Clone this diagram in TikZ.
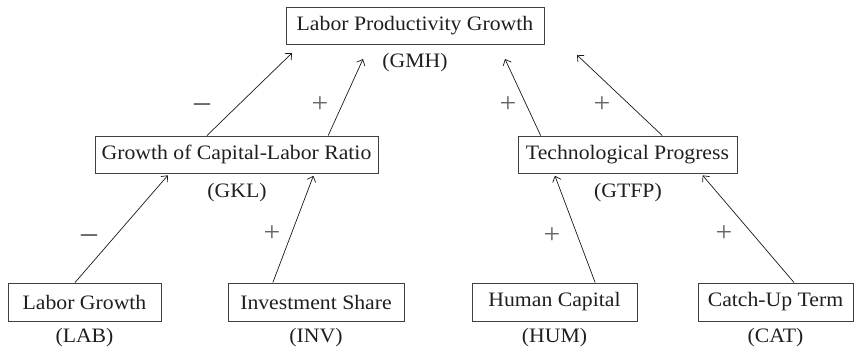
\documentclass[tikz,border=0pt]{standalone}
\usepackage{fontspec}
\setmainfont[FakeStretch=1.06]{Liberation Serif}
\usetikzlibrary{arrows.meta,calc}

\begin{document}
\begin{tikzpicture}[x=1pt,y=-1pt,
  txt/.style={font=\fontsize{20.5}{24}\selectfont,text=black!88,inner sep=0pt},
  box/.style={txt,draw=black!75,line width=0.9pt,minimum height=37pt},
  code/.style={txt},
  sign/.style={font=\fontsize{28}{28}\selectfont,text=black!60,inner sep=0pt},
  minus/.style={font=\fontsize{30}{30}\selectfont,text=black!75,inner sep=0pt},
  link/.style={line width=0.7pt,draw=black!90,-{Straight Barb[length=5pt,width=9pt,line width=0.7pt]}},
]
\useasboundingbox (0,0) rectangle (863,356);

% top level
\node[box,minimum width=258pt] (gmh) at (415,25.5) {Labor Productivity Growth};
\node[code] (gmhc) at (415,63) {(GMH)};

% middle level
\node[box,minimum width=283pt] (gkl) at (236.5,154.5) {Growth of Capital-Labor Ratio};
\node[code] (gklc) at (237,193) {(GKL)};
\node[box,minimum width=219pt] (gtfp) at (627.5,154.5) {Technological Progress};
\node[code] (gtfpc) at (628,193) {(GTFP)};

% bottom level
\node[box,minimum width=153pt,minimum height=38pt] (lab) at (84.5,302) {Labor Growth};
\node[code] (labc) at (84.5,338) {(LAB)};
\node[box,minimum width=176pt,minimum height=38pt] (inv) at (316,302) {Investment Share};
\node[code] (invc) at (316,338) {(INV)};
\node[box,minimum width=165pt,minimum height=38pt] (hum) at (554.5,302) {Human Capital};
\node[code] (humc) at (554.5,338) {(HUM)};
\node[box,minimum width=155pt,minimum height=38pt] (cat) at (775.5,302) {Catch-Up Term};
\node[code] (catc) at (775.5,338) {(CAT)};

% arrow tips below the top box
\coordinate (tipA) at (292,53);
\coordinate (tipB) at (363,59);
\coordinate (tipC) at (505,59);
\coordinate (tipD) at (577,55);

% links into the top box
\draw[link] ($(gkl.north west)!0.396!(gkl.north east)$) -- (tipA);
\draw[link] ($(gkl.north west)!0.823!(gkl.north east)$) -- (tipB);
\draw[link] ($(gtfp.north west)!0.105!(gtfp.north east)$) -- (tipC);
\draw[link] ($(gtfp.north west)!0.658!(gtfp.north east)$) -- (tipD);

% links into the middle boxes
\draw[link,shorten >=2.5pt] ($(lab.north west)!0.438!(lab.north east)$) -- ($(gkl.south west)!0.264!(gkl.south east)$);
\draw[link,shorten >=2.5pt] ($(inv.north west)!0.256!(inv.north east)$) -- ($(gkl.south west)!0.774!(gkl.south east)$);
\draw[link,shorten >=2.5pt] ($(hum.north west)!0.745!(hum.north east)$) -- ($(gtfp.south west)!0.166!(gtfp.south east)$);
\draw[link,shorten >=2.5pt] ($(cat.north west)!0.619!(cat.north east)$) -- ($(gtfp.south west)!0.834!(gtfp.south east)$);

% signs of the effects
\node[minus] (s1) at (202,108) {–};
\node[sign] (s2) at (320,105) {+};
\node[sign] (s3) at (508,105) {+};
\node[sign] (s4) at (602,105) {+};
\node[minus] (s5) at (89,239) {–};
\node[sign] (s6) at (272,234) {+};
\node[sign] (s7) at (552,236) {+};
\node[sign] (s8) at (724,234) {+};
\end{tikzpicture}
\end{document}
